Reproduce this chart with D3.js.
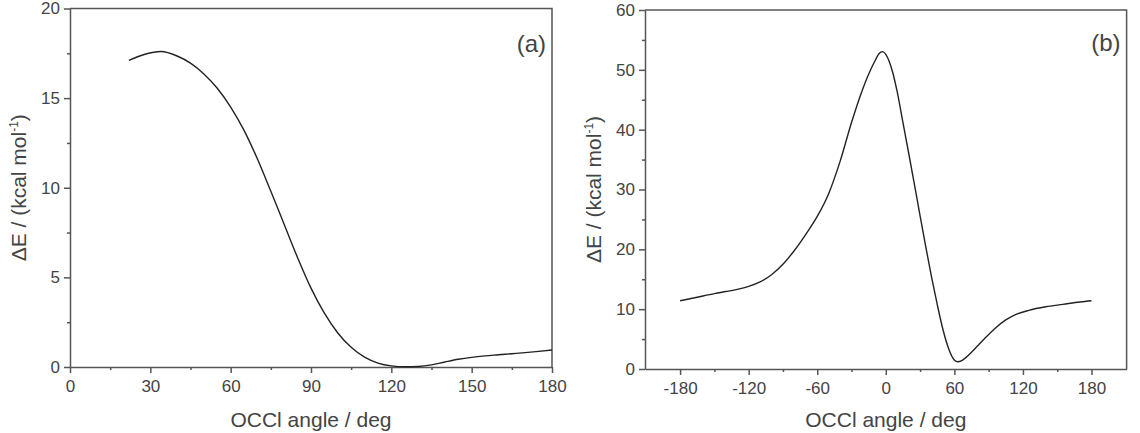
<!DOCTYPE html>
<html>
<head>
<meta charset="utf-8">
<script src="https://cdn.jsdelivr.net/npm/d3@7"></script>
<style>
  body { margin: 0; background: #fff; }
  svg { display: block; font-family: "Liberation Sans", Arial, sans-serif; }
  .axis path, .axis line { stroke: #555; stroke-width: 1.5; }
  .axis text { fill: #444; font-size: 17px; }
  .title { fill: #444; font-size: 21px; }
</style>
</head>
<body>
<svg id="chart" width="1140" height="433"></svg>
<script>
// Panel (a): OCCl angle 0..180
const anglesA = [22, 28, 34, 40, 45, 50, 55, 60, 65, 70, 75, 80, 85, 90, 95, 100, 105, 110, 115, 120, 125, 130, 135, 140, 145, 150, 155, 160, 165, 170, 175, 180];
const energyA = [17.1, 17.45, 17.6, 17.35, 16.95, 16.35, 15.55, 14.5, 13.2, 11.6, 9.8, 7.95, 6.1, 4.4, 3.0, 1.9, 1.1, 0.55, 0.22, 0.06, 0.01, 0.03, 0.12, 0.28, 0.43, 0.54, 0.62, 0.68, 0.74, 0.8, 0.87, 0.95];
const xTicksA = [0, 30, 60, 90, 120, 150, 180];
const xMinorA = [15, 45, 75, 105, 135, 165];
const yTicksA = [0, 5, 10, 15, 20];
const yMinorA = [2.5, 7.5, 12.5, 17.5];

// Panel (b): OCCl angle -180..180
const anglesB = [-180, -165, -150, -140, -130, -120, -110, -100, -90, -80, -70, -60, -50, -40, -30, -20, -10, -6, -3, 0, 3, 6, 10, 15, 20, 25, 30, 35, 40, 45, 50, 55, 60, 63, 66, 70, 75, 80, 85, 95, 105, 115, 125, 140, 155, 170, 180];
const energyB = [11.4, 12.0, 12.6, 12.95, 13.3, 13.8, 14.55, 15.75, 17.5, 19.8, 22.5, 25.5, 29.3, 34.7, 41.2, 46.9, 51.3, 52.7, 53.05, 52.6, 51.4, 49.6, 46.3, 41.2, 36.1, 30.9, 25.6, 20.4, 15.4, 10.8, 6.6, 3.4, 1.5, 1.2, 1.35, 1.9, 2.8, 3.8, 4.8, 6.7, 8.2, 9.2, 9.8, 10.4, 10.8, 11.2, 11.4];
const xTicksB = [-180, -120, -60, 0, 60, 120, 180];
const xMinorB = [-150, -90, -30, 30, 90, 150];
const yTicksB = [0, 10, 20, 30, 40, 50, 60];
const yMinorB = [5, 15, 25, 35, 45, 55];

const svg = d3.select("#chart");

function drawPanel(opts) {
  const { left, top, width, height } = opts.box;
  const g = svg.append("g").attr("transform", `translate(${left},${top})`);

  const x = d3.scaleLinear().domain(opts.xDomain).range([0, width]);
  const y = d3.scaleLinear().domain(opts.yDomain).range([height, 0]);

  // frame (top and right edges)
  g.append("path")
    .attr("d", `M0,0H${width}V${height}`)
    .attr("fill", "none")
    .attr("stroke", "#555")
    .attr("stroke-width", 1.5);

  // minor ticks
  g.append("g").attr("class", "axis")
    .attr("transform", `translate(0,${height})`)
    .call(d3.axisBottom(x).tickValues(opts.xMinor).tickSize(3).tickFormat(""))
    .select(".domain").remove();
  g.append("g").attr("class", "axis")
    .call(d3.axisLeft(y).tickValues(opts.yMinor).tickSize(3).tickFormat(""))
    .select(".domain").remove();

  // major axes
  g.append("g").attr("class", "axis")
    .attr("transform", `translate(0,${height})`)
    .call(d3.axisBottom(x).tickValues(opts.xTicks).tickSize(6).tickSizeOuter(0).tickPadding(7).tickFormat(d => String(d)));
  g.append("g").attr("class", "axis")
    .call(d3.axisLeft(y).tickValues(opts.yTicks).tickSize(6).tickSizeOuter(0).tickPadding(4).tickFormat(d => String(d)));

  // curve
  const line = d3.line()
    .x((d, i) => x(opts.xs[i]))
    .y(d => y(d))
    .curve(d3.curveMonotoneX);
  g.append("path")
    .datum(opts.ys)
    .attr("fill", "none")
    .attr("stroke", "#222")
    .attr("stroke-width", 1.4)
    .attr("d", line);

  // panel label
  g.append("text")
    .attr("x", width - 6)
    .attr("y", opts.labelY)
    .attr("text-anchor", "end")
    .attr("fill", "#444")
    .style("font-size", "24px")
    .text(opts.label);

  // x title
  g.append("text")
    .attr("class", "title")
    .attr("x", width / 2)
    .attr("y", 427 - top)
    .attr("text-anchor", "middle")
    .text("OCCl angle / deg");

  // y title
  const yt = g.append("text")
    .attr("class", "title")
    .attr("transform", `translate(-44,${height / 2}) rotate(-90)`)
    .attr("text-anchor", "middle");
  yt.append("tspan").text("ΔE / (kcal mol");
  yt.append("tspan").attr("dy", -8).style("font-size", "12px").text("-1");
  yt.append("tspan").attr("dy", 8).text(")");
}

drawPanel({
  box: { left: 70, top: 8.5, width: 482, height: 358.5 },
  xDomain: [0, 180], yDomain: [0, 20],
  xTicks: xTicksA, xMinor: xMinorA, yTicks: yTicksA, yMinor: yMinorA,
  xs: anglesA, ys: energyA, label: "(a)", labelY: 43
});

drawPanel({
  box: { left: 645, top: 10, width: 481.6, height: 359 },
  xDomain: [-210.7, 210.7], yDomain: [0, 60],
  xTicks: xTicksB, xMinor: xMinorB, yTicks: yTicksB, yMinor: yMinorB,
  xs: anglesB, ys: energyB, label: "(b)", labelY: 41
});
</script>
</body>
</html>
